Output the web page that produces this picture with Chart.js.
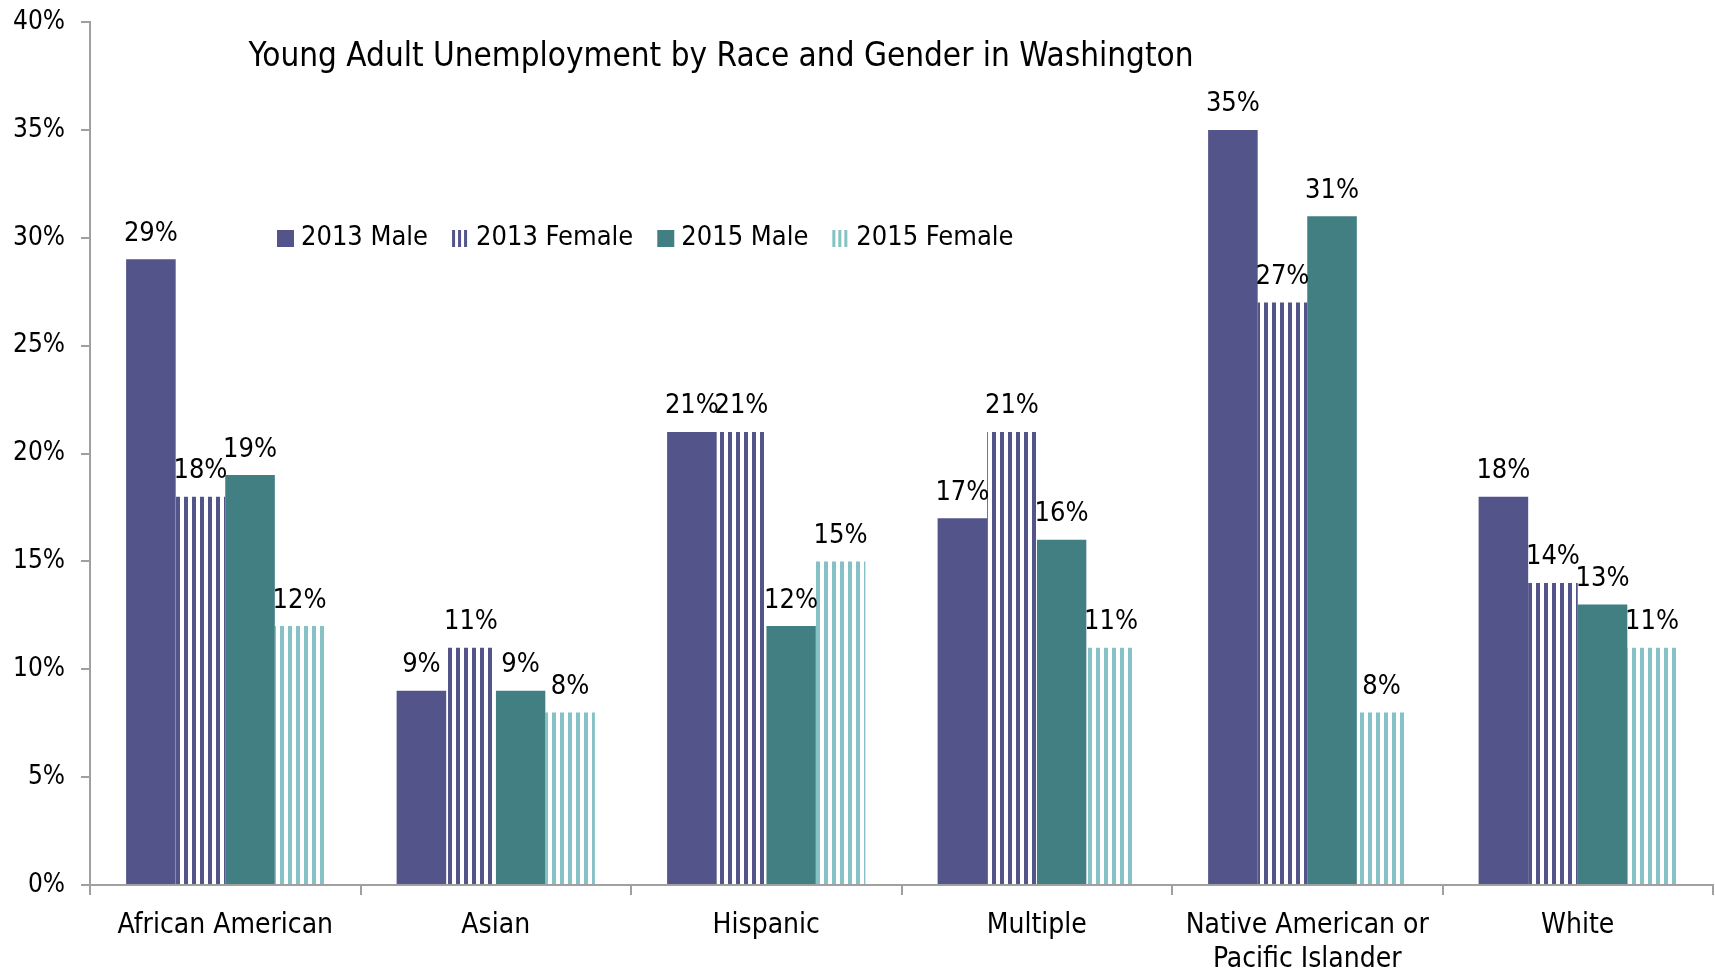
<!DOCTYPE html>
<html>
<head>
<meta charset="utf-8">
<script src="https://cdn.jsdelivr.net/npm/chart.js@4"></script>
<style>
  html, body { margin: 0; padding: 0; background: #ffffff; }
  #wrap { width: 1715px; height: 975px; }
</style>
</head>
<body>
<div id="wrap"><canvas id="chart" width="1715" height="975"></canvas></div>
<script>
// Data
const categories = ['African American', 'Asian', 'Hispanic', 'Multiple', ['Native American or', 'Pacific Islander'], 'White'];
const male2013 = [29, 9, 21, 17, 35, 18];
const female2013 = [18, 11, 21, 21, 27, 14];
const male2015 = [19, 9, 12, 16, 31, 13];
const female2015 = [12, 8, 15, 11, 8, 11];
const seriesNames = ['2013 Male', '2013 Female', '2015 Male', '2015 Female'];
const yTicks = [0, 5, 10, 15, 20, 25, 30, 35, 40];

const FONT = "'Liberation Sans Narrow', 'DejaVu Sans Condensed', 'Arial Narrow', sans-serif";
const colors = {
    purple: '#53548a',
    teal: '#417f82',
    lightTeal: '#86c2c5',
    axis: '#a0a0a0'
};

// Vertical stripe pattern (coloured line on white)
const makeStripes = (color) => {
    const c = document.createElement('canvas');
    c.width = 8; c.height = 8;
    const g = c.getContext('2d');
    g.fillStyle = '#ffffff';
    g.fillRect(0, 0, 8, 8);
    g.fillStyle = color;
    g.fillRect(0, 0, 4, 8);
    return document.getElementById('chart').getContext('2d').createPattern(c, 'repeat');
};

const stripePurple = makeStripes(colors.purple);
const stripeTeal = makeStripes(colors.lightTeal);

// Title, legend and value labels
const decorations = {
    id: 'decorations',
    afterDatasetsDraw(chart) {
        const { ctx } = chart;
        ctx.save();

        // value labels
        ctx.fillStyle = '#000';
        ctx.font = `27px ${FONT}`;
        ctx.textAlign = 'center';
        ctx.textBaseline = 'bottom';
        chart.data.datasets.forEach((ds, i) => {
            chart.getDatasetMeta(i).data.forEach((bar, j) => {
                ctx.fillText(ds.data[j] + '%', bar.x, bar.y - 12);
            });
        });

        // title
        ctx.font = `33px ${FONT}`;
        ctx.textAlign = 'center';
        ctx.textBaseline = 'middle';
        ctx.fillText('Young Adult Unemployment by Race and Gender in Washington', 721, 57);

        // legend
        ctx.font = `27px ${FONT}`;
        ctx.textAlign = 'left';
        let x = 277;
        const y = 238;
        const markers = [
            { type: 'solid', color: colors.purple },
            { type: 'stripe', color: colors.purple },
            { type: 'solid', color: colors.teal },
            { type: 'stripe', color: colors.lightTeal }
        ];
        seriesNames.forEach((name, i) => {
            const m = markers[i];
            ctx.fillStyle = m.color;
            if (m.type === 'solid') {
                ctx.fillRect(x, y - 8, 17, 17);
            } else {
                for (let k = 0; k < 3; k++) ctx.fillRect(x + k * 6, y - 8, 3, 17);
            }
            ctx.fillStyle = '#000';
            ctx.fillText(name, x + 24, y);
            x += 24 + ctx.measureText(name).width + 24;
        });

        ctx.restore();
    }
};

new Chart(document.getElementById('chart'), {
    type: 'bar',
    data: {
        labels: categories,
        datasets: [
            { label: seriesNames[0], data: male2013, backgroundColor: colors.purple },
            { label: seriesNames[1], data: female2013, backgroundColor: stripePurple },
            { label: seriesNames[2], data: male2015, backgroundColor: colors.teal },
            { label: seriesNames[3], data: female2015, backgroundColor: stripeTeal }
        ]
    },
    options: {
        responsive: false,
        animation: false,
        layout: { padding: { top: 22, right: 2, left: 0, bottom: 0 } },
        datasets: {
            bar: { categoryPercentage: 0.733, barPercentage: 1.0 }
        },
        scales: {
            x: {
                grid: {
                    offset: true,
                    drawOnChartArea: false,
                    color: colors.axis,
                    tickLength: 10,
                    lineWidth: 2
                },
                border: { color: colors.axis, width: 2 },
                ticks: {
                    color: '#000',
                    font: { family: FONT, size: 28 },
                    padding: 14,
                    maxRotation: 0
                },
                afterFit: (scale) => {
                    scale.height = 90;
                    scale.paddingLeft = 0;
                    scale.paddingRight = 0;
                }
            },
            y: {
                min: 0,
                max: 40,
                afterBuildTicks: (scale) => { scale.ticks = yTicks.map(v => ({ value: v })); },
                grid: {
                    drawOnChartArea: false,
                    color: colors.axis,
                    tickLength: 9,
                    lineWidth: 2
                },
                border: { color: colors.axis, width: 2 },
                ticks: {
                    color: '#000',
                    font: { family: FONT, size: 26 },
                    padding: 16,
                    callback: (v) => v + '%'
                },
                afterFit: (scale) => {
                    scale.width = 90;
                    scale.paddingTop = 0;
                    scale.paddingBottom = 0;
                }
            }
        },
        plugins: {
            legend: { display: false },
            tooltip: { enabled: false }
        }
    },
    plugins: [decorations]
});
</script>
</body>
</html>
